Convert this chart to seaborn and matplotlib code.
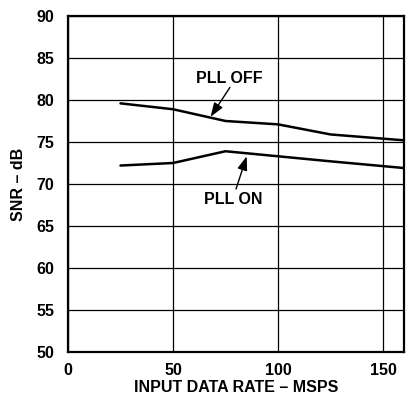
import matplotlib
matplotlib.use("Agg")
import matplotlib.pyplot as plt
import seaborn as sns
import pandas as pd

# SNR versus input data rate, with and without the PLL
rate_off = [25, 50, 75, 100, 125, 160]
snr_off = [79.6, 78.9, 77.5, 77.1, 75.9, 75.2]
rate_on = [25, 50, 75, 100, 125, 160]
snr_on = [72.2, 72.5, 73.9, 73.3, 72.7, 71.9]

x_ticks = [0, 50, 100, 150]
y_ticks = [50, 55, 60, 65, 70, 75, 80, 85, 90]

sns.set_theme(style="white")
plt.rcParams["font.family"] = ["Liberation Sans", "DejaVu Sans"]
plt.rcParams["font.weight"] = "bold"
plt.rcParams["text.color"] = "black"
plt.rcParams["axes.labelcolor"] = "black"
plt.rcParams["xtick.color"] = "black"
plt.rcParams["ytick.color"] = "black"

df = pd.concat([
    pd.DataFrame({"rate": rate_off, "snr": snr_off, "mode": "PLL OFF"}),
    pd.DataFrame({"rate": rate_on, "snr": snr_on, "mode": "PLL ON"}),
])

fig = plt.figure(figsize=(4.14, 3.94), dpi=100)
ax = fig.add_axes([68 / 414, 1 - 352 / 394, 336 / 414, 336 / 394])

sns.lineplot(data=df, x="rate", y="snr", units="mode", estimator=None,
             color="black", linewidth=1.8, legend=False, ax=ax)

ax.set_xlim(0, 160)
ax.set_ylim(50, 90)
ax.set_xticks(x_ticks)
ax.set_yticks(y_ticks)
ax.grid(True, color="black", linewidth=0.9)
ax.set_axisbelow(True)
for s in ax.spines.values():
    s.set_color("black")
    s.set_linewidth(1.6)
ax.tick_params(axis="y", length=0, labelsize=11.5, pad=10, colors="black")
ax.tick_params(axis="x", length=0, labelsize=11.5, pad=8, colors="black")
for lbl in ax.get_xticklabels() + ax.get_yticklabels():
    lbl.set_fontweight("bold")

ax.set_xlabel("INPUT DATA RATE – MSPS", fontsize=11.5, fontweight="bold",
              labelpad=1)
ax.set_ylabel("SNR – dB", fontsize=11.5, fontweight="bold", labelpad=7)

arrow = dict(arrowstyle="-|>,head_length=0.7,head_width=0.25", color="black",
             linewidth=1.0, shrinkA=0, shrinkB=0)
ax.annotate("", xy=(67.9, 78.0), xytext=(77.1, 81.5), arrowprops=arrow)
ax.text(76.7, 82.6, "PLL OFF", ha="center", va="center", fontsize=11.5,
        fontweight="bold")
ax.annotate("", xy=(85.1, 73.3), xytext=(80.0, 69.4), arrowprops=arrow)
ax.text(78.6, 68.2, "PLL ON", ha="center", va="center", fontsize=11.5,
        fontweight="bold")

fig.savefig("out.png", dpi=100)
